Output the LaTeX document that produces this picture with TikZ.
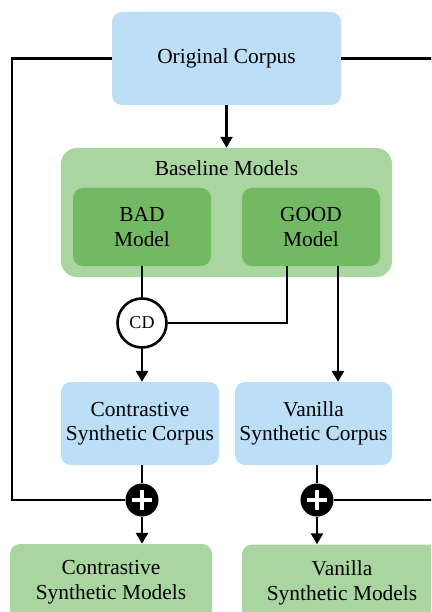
\documentclass[tikz,border=0pt]{standalone}
\usepackage{fontspec}
\setmainfont{Liberation Serif}
\usetikzlibrary{arrows.meta}
\definecolor{cblue}{RGB}{189,222,247}
\definecolor{cgreen}{RGB}{168,213,160}
\definecolor{cdgreen}{RGB}{115,184,99}
\tikzset{
  box/.style={rounded corners=10pt, inner sep=0pt, align=center, font=\fontsize{21.4}{24.5}\selectfont},
  bluebox/.style={box, fill=cblue},
  greenbox/.style={box, fill=cgreen},
  darkbox/.style={box, fill=cdgreen},
  conn/.style={line width=2.6pt},
  arr/.style={conn, -{Triangle[length=11pt,width=12pt]}},
  plusnode/.style={circle, fill=black, minimum size=33pt, inner sep=0pt},
}
\begin{document}
\begin{tikzpicture}[x=1pt,y=-1pt]
\useasboundingbox (0,0) rectangle (431,612);
\clip (0,0) rectangle (431,612);
% nodes
\node[bluebox, minimum width=229pt, minimum height=93pt] (orig) at (226.5,58.5) {Original Corpus};
\node[greenbox, rounded corners=16pt, minimum width=331pt, minimum height=129pt] (base) at (226.5,212.5) {};
\node[box] (baselabel) at (226.5,168) {Baseline Models};
\node[darkbox, minimum width=138pt, minimum height=78pt] (bad) at (142,227) {BAD\\Model};
\node[darkbox, minimum width=138pt, minimum height=78pt] (good) at (311,227) {GOOD\\Model};
\node[circle, draw=black, line width=2.6pt, fill=white, minimum size=49pt, inner sep=0pt, font=\fontsize{18}{20}\selectfont] (cd) at (142,323) {CD};
\node[bluebox, minimum width=158pt, minimum height=83pt] (csc) at (140,423.5) {Contrastive\\Synthetic Corpus};
\node[bluebox, minimum width=157pt, minimum height=83pt] (vsc) at (313.5,423.5) {Vanilla\\Synthetic Corpus};
\node[plusnode] (plus1) at (142,500) {};
\node[plusnode] (plus2) at (317,500) {};
\node[greenbox, minimum width=202pt, minimum height=76pt] (csm) at (111,582) {Contrastive\\Synthetic Models};
\node[greenbox, minimum width=200pt, minimum height=77pt] (vsm) at (342,583) {Vanilla\\Synthetic Models};
% plus signs
\foreach \p in {plus1,plus2}{
  \fill[white] ([xshift=-10pt,yshift=-2.2pt]\p.center) rectangle ([xshift=10pt,yshift=2.2pt]\p.center);
  \fill[white] ([xshift=-2.2pt,yshift=-10pt]\p.center) rectangle ([xshift=2.2pt,yshift=10pt]\p.center);
}
% coordinates
\coordinate (L) at (12,500);
\coordinate (R) at (440,500);
% connectors
\draw[arr] (orig.south) -- (base.north);
\draw[conn] (orig.west) -| (L) -- (plus1.west);
\draw[conn] (orig.east) -| (R) -- (plus2.east);
\draw[conn] (bad.south) -- (cd.north);
\draw[conn] ([xshift=-24pt]good.south) |- (cd.east);
\draw[arr] ([xshift=27pt]good.south) -- ([xshift=27pt]good.south |- vsc.north);
\draw[arr] (cd.south) -- (cd.south |- csc.north);
\draw[conn] (plus1 |- csc.south) -- (plus1.north);
\draw[arr] (plus1.south) -- (plus1.south |- csm.north);
\draw[conn] (plus2 |- vsc.south) -- (plus2.north);
\draw[arr] (plus2.south) -- (plus2.south |- vsm.north);
\end{tikzpicture}
\end{document}
